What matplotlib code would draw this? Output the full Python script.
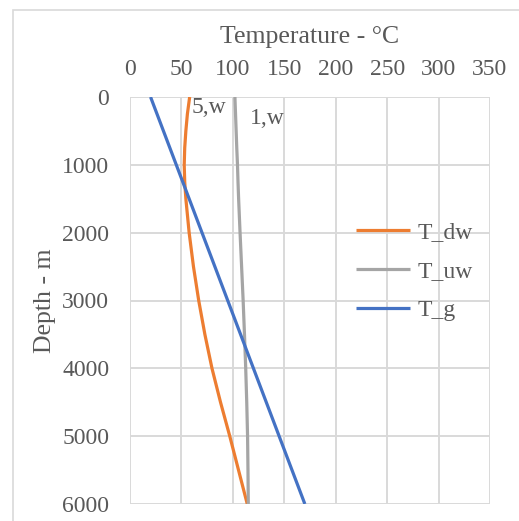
import numpy as np
import matplotlib.pyplot as plt
from matplotlib.patches import Rectangle

plt.rcParams['font.family'] = ['Liberation Serif', 'DejaVu Serif']

# depth points (m) and temperatures (°C)
depth = [0, 250, 500, 750, 1000, 1250, 1500, 2000, 2500, 3000, 3500, 4000, 4500, 5000, 5500, 6000]
t_dw = [58, 55.8, 54.3, 53.2, 52.7, 53.2, 54.3, 57.5, 61.7, 66.8, 72.8, 79.7, 88, 97, 105.5, 114]
t_uw = [102, 102.6, 103.2, 103.8, 104.5, 105, 105.6, 107, 108.5, 110, 111.3, 112.5, 113.5, 114.3, 114.7, 115]
t_g = [20, 26.25, 32.5, 38.75, 45, 51.25, 57.5, 70, 82.5, 95, 107.5, 120, 132.5, 145, 157.5, 170]

series_names = ['T_dw', 'T_uw', 'T_g']
colors = ['#ED7D31', '#A5A5A5', '#4472C4']
x_ticks = [0, 50, 100, 150, 200, 250, 300, 350]
y_ticks = [0, 1000, 2000, 3000, 4000, 5000, 6000]
txt = '#595959'

fig = plt.figure(figsize=(5.19, 5.21), dpi=100)
# chart-area border, Excel style
fig.patches.append(Rectangle((13 / 519, -0.1), 1.2, 1 - 10 / 521 + 0.1,
                             transform=fig.transFigure, fill=False,
                             edgecolor='#d9d9d9', linewidth=1.2))
ax = fig.add_axes([130 / 519, 1 - 504 / 521, 360 / 519, 407 / 521])

for t, name, c in zip([t_dw, t_uw, t_g], series_names, colors):
    ax.plot(t, depth, color=c, linewidth=2.3, label=name, solid_capstyle='butt',
            solid_joinstyle='round')

ax.set_xlim(0, 350)
ax.set_ylim(6000, 0)
ax.set_xticks(x_ticks)
ax.set_yticks(y_ticks)
ax.xaxis.tick_top()
ax.xaxis.set_label_position('top')
ax.tick_params(length=0, labelsize=17, colors=txt)
ax.tick_params(axis='y', pad=15)
ax.tick_params(axis='x', pad=12.5)
for s in ax.spines.values():
    s.set_visible(False)
ax.grid(True, color='#d9d9d9', linewidth=1.4)
ax.set_axisbelow(True)
ax.set_xlabel('Temperature - °C', fontsize=18.5, color=txt, labelpad=11)
ax.set_ylabel('Depth - m', fontsize=18.5, color=txt, labelpad=4.5)

ax.text(60, 160, '5,w', fontsize=17, color=txt, va='center', ha='left')
ax.text(117, 310, '1,w', fontsize=17, color=txt, va='center', ha='left')

ax.legend(loc='upper left', bbox_to_anchor=(0.628, 0.694), frameon=False,
          fontsize=17, labelcolor=txt, handlelength=2.3, handletextpad=0.3,
          labelspacing=0.74, borderpad=0, borderaxespad=0)

fig.savefig('out.png', dpi=100)
